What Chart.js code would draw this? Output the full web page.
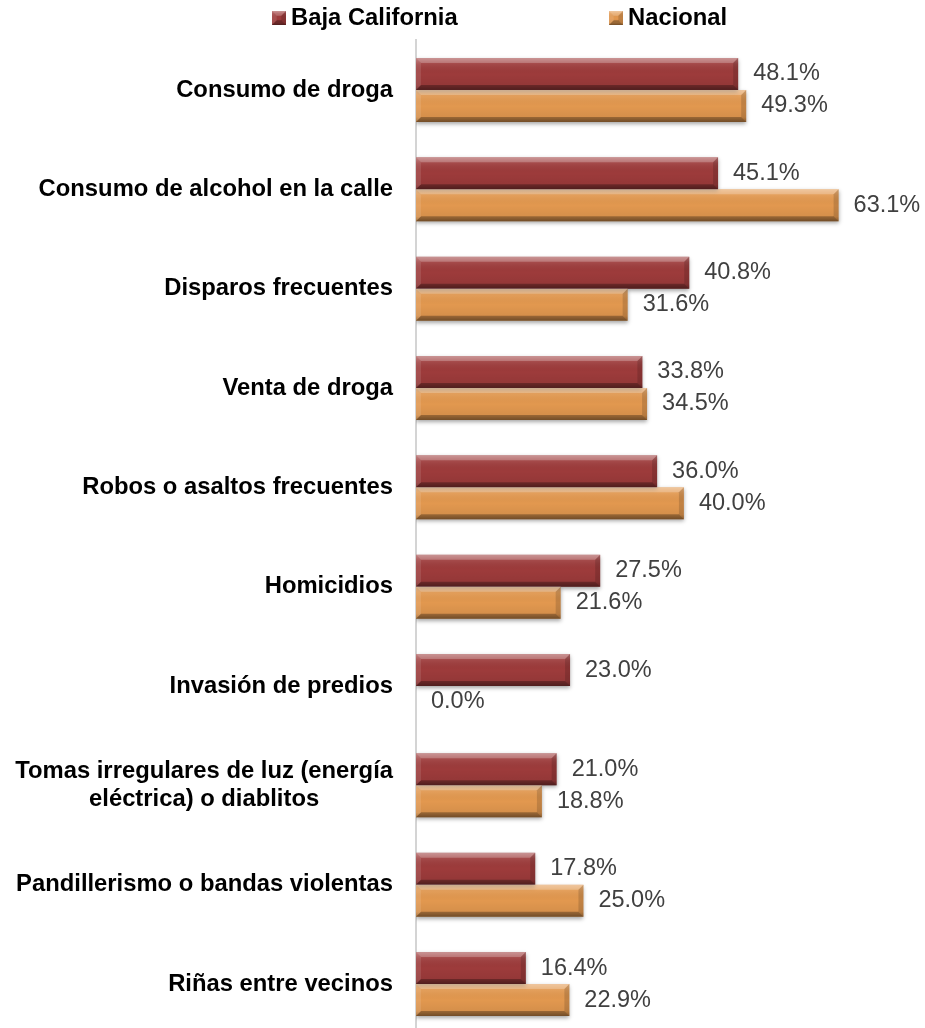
<!DOCTYPE html>
<html>
<head>
<meta charset="utf-8">
<script src="https://cdn.jsdelivr.net/npm/chart.js@4/dist/chart.umd.min.js"></script>
<style>
  html, body { margin: 0; padding: 0; background: #fff; overflow: hidden; }
  canvas { display: block; }
</style>
</head>
<body>
<canvas id="problemas" width="925" height="1040"></canvas>
<script>
const categories = [
  'Consumo de droga',
  'Consumo de alcohol en la calle',
  'Disparos frecuentes',
  'Venta de droga',
  'Robos o asaltos frecuentes',
  'Homicidios',
  'Invasión de predios',
  ['Tomas irregulares de luz (energía', 'eléctrica) o diablitos'],
  'Pandillerismo o bandas violentas',
  'Riñas entre vecinos'
];
const bajaCalifornia = [48.1, 45.1, 40.8, 33.8, 36.0, 27.5, 23.0, 21.0, 17.8, 16.4];
const nacional = [49.3, 63.1, 31.6, 34.5, 40.0, 21.6, 0.0, 18.8, 25.0, 22.9];
const seriesNames = ['Baja California', 'Nacional'];

const RED = '#9d3b3b';
const ORANGE = '#e2984f';
const FONT = '"Liberation Sans", Arial, sans-serif';

// excel-like bevel on every bar
function bevel(ctx, left, top, right, bottom) {
  const b = Math.min(5, (right - left) / 2, (bottom - top) / 3);
  const g = ctx.createLinearGradient(0, top, 0, bottom);
  g.addColorStop(0, 'rgba(255,255,255,0.30)');
  g.addColorStop(0.18, 'rgba(255,255,255,0.08)');
  g.addColorStop(0.5, 'rgba(0,0,0,0)');
  g.addColorStop(0.85, 'rgba(0,0,0,0.06)');
  g.addColorStop(1, 'rgba(0,0,0,0.30)');
  ctx.fillStyle = g;
  ctx.fillRect(left, top, right - left, bottom - top);
  const poly = (pts, col) => {
    ctx.beginPath();
    ctx.moveTo(pts[0][0], pts[0][1]);
    for (let i = 1; i < pts.length; i++) ctx.lineTo(pts[i][0], pts[i][1]);
    ctx.closePath();
    ctx.fillStyle = col;
    ctx.fill();
  };
  poly([[left, top], [right, top], [right - b, top + b], [left + b, top + b]], 'rgba(255,255,255,0.22)');
  poly([[left, bottom], [right, bottom], [right - b, bottom - b], [left + b, bottom - b]], 'rgba(0,0,0,0.28)');
  poly([[right, top], [right, bottom], [right - b, bottom - b], [right - b, top + b]], 'rgba(0,0,0,0.14)');
  poly([[left, top], [left, bottom], [left + b, bottom - b], [left + b, top + b]], 'rgba(255,255,255,0.10)');
}

const barStyle = {
  id: 'barStyle',
  beforeDatasetsDraw(chart) {
    const ctx = chart.ctx;
    ctx.save();
    ctx.shadowColor = 'rgba(0,0,0,0.35)';
    ctx.shadowBlur = 4;
    ctx.shadowOffsetY = 2;
  },
  afterDatasetsDraw(chart) {
    const ctx = chart.ctx;
    ctx.restore();
    ctx.save();
    chart.data.datasets.forEach((ds, di) => {
      chart.getDatasetMeta(di).data.forEach((el, i) => {
        const p = el.getProps(['x', 'y', 'base', 'height'], true);
        const left = Math.min(p.base, p.x), right = Math.max(p.base, p.x);
        const top = p.y - p.height / 2, bottom = p.y + p.height / 2;
        if (right - left > 1) bevel(ctx, left, top, right, bottom);
        // value label
        ctx.fillStyle = '#404040';
        ctx.font = '23.5px ' + FONT;
        ctx.textAlign = 'left';
        ctx.textBaseline = 'middle';
        ctx.fillText(ds.data[i].toFixed(1) + '%', right + 15, p.y);
      });
    });
    ctx.restore();
  },
  afterDraw(chart) {
    const ctx = chart.ctx;
    const yScale = chart.scales.y;
    ctx.save();
    // category labels, block right aligned, lines centred
    ctx.font = 'bold 23.8px ' + FONT;
    ctx.fillStyle = '#000';
    ctx.textBaseline = 'middle';
    ctx.textAlign = 'center';
    categories.forEach((c, i) => {
      const lines = Array.isArray(c) ? c : [c];
      const w = Math.max(...lines.map(l => ctx.measureText(l).width));
      const cx = 393 - w / 2;
      const y0 = yScale.getPixelForTick(i) - (lines.length - 1) * 14;
      lines.forEach((l, k) => ctx.fillText(l, cx, y0 + k * 28));
    });
    // legend
    const items = [[272, RED, 291], [609, ORANGE, 628]];
    ctx.textAlign = 'left';
    ctx.textBaseline = 'alphabetic';
    items.forEach(([mx, col, tx], k) => {
      ctx.fillStyle = col;
      ctx.fillRect(mx, 11, 14, 14);
      bevel(ctx, mx, 11, mx + 14, 25);
      ctx.fillStyle = '#000';
      ctx.fillText(seriesNames[k], tx, 25);
    });
    ctx.restore();
  }
};

new Chart(document.getElementById('problemas'), {
  type: 'bar',
  plugins: [barStyle],
  data: {
    labels: categories,
    datasets: [
      { label: seriesNames[0], data: bajaCalifornia, backgroundColor: RED },
      { label: seriesNames[1], data: nacional, backgroundColor: ORANGE }
    ]
  },
  options: {
    indexAxis: 'y',
    responsive: false,
    animation: false,
    layout: { padding: { top: 40.3, bottom: 6.3, left: 0, right: 0 } },
    datasets: { bar: { categoryPercentage: 0.644, barPercentage: 1, borderWidth: 0 } },
    scales: {
      x: { display: false, min: 0, max: 76 },
      y: {
        ticks: { display: false },
        grid: { display: false, drawTicks: false },
        border: { display: true, color: '#d4d4d4', width: 2 },
        afterFit(scale) { scale.width = 416; }
      }
    },
    plugins: {
      legend: { display: false },
      tooltip: { enabled: false }
    }
  }
});
</script>
</body>
</html>
